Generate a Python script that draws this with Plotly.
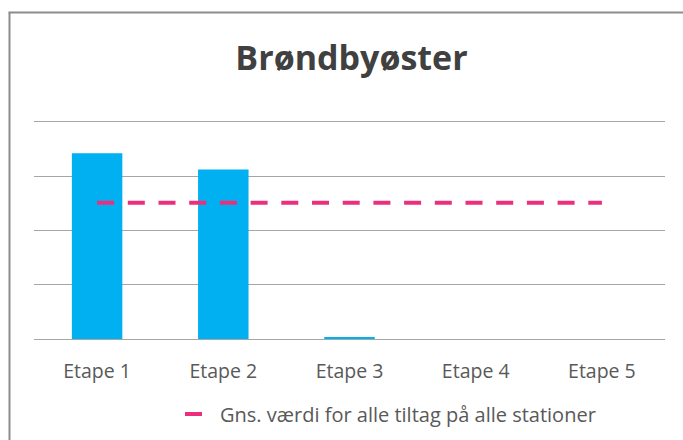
import plotly.graph_objects as go

categories = ["Etape 1", "Etape 2", "Etape 3", "Etape 4", "Etape 5"]
values = [3.42, 3.12, 0.02, 0, 0]
avg_values = [2.51, 2.51, 2.51, 2.51, 2.51]
avg_name = "Gns. værdi for alle tiltag på alle stationer"
title_text = "Brøndbyøster"

W, H = 683, 440
ML, MR, MT, MB = 34, 18, 120, 101
PW, PH = W - ML - MR, H - MT - MB
YTOP = PH / (217.3 / 4)


def px_x(x):
    return (x - ML) / PW


def px_y(y):
    return (H - MB - y) / PH


fig = go.Figure()
fig.add_trace(go.Bar(
    x=categories, y=values, marker=dict(color="#00B0F0", line=dict(width=0)),
    showlegend=False, hoverinfo="skip",
))
fig.add_trace(go.Scatter(
    x=categories, y=avg_values, mode="lines", name=avg_name,
    line=dict(color="#EB2F7C", width=4, dash="17px,13.7px"),
))

border = "#8C8C8C"
fig.add_shape(type="line", xref="paper", yref="paper",
              x0=px_x(9.5), x1=px_x(9.5), y0=px_y(450), y1=px_y(12.5),
              line=dict(color=border, width=2))
fig.add_shape(type="line", xref="paper", yref="paper",
              x0=px_x(8.5), x1=px_x(700), y0=px_y(12.5), y1=px_y(12.5),
              line=dict(color=border, width=2))

fig.update_layout(
    width=W, height=H,
    margin=dict(l=ML, r=MR, t=MT, b=MB, pad=0, autoexpand=False),
    paper_bgcolor="white", plot_bgcolor="white",
    bargap=0.6,
    font=dict(family="Open Sans", color="#595959"),
    title=dict(text=title_text, x=351.5 / W, xref="container", xanchor="center",
               y=1 - 58.5 / H, yref="container", yanchor="middle",
               font=dict(family="Open Sans", size=34, color="#404040", weight="bold")),
    xaxis=dict(showgrid=False, showline=False, zeroline=False, ticks="",
               tickfont=dict(size=19.5, color="#595959"), ticklabelstandoff=18),
    yaxis=dict(range=[0, YTOP], tickvals=[1, 2, 3, 4], showticklabels=False, showgrid=True,
               gridcolor="#A6A6A6", gridwidth=1, zeroline=True,
               zerolinecolor="#A6A6A6", zerolinewidth=1, showline=False, ticks=""),
    legend=dict(orientation="h", x=px_x(180), xanchor="left",
                y=px_y(414), yanchor="middle",
                font=dict(size=20, color="#595959"), bgcolor="rgba(0,0,0,0)"),
)

fig.write_html("out.html", config={"displayModeBar": False},
               post_script="document.body.style.margin='0';document.body.style.padding='0';")
